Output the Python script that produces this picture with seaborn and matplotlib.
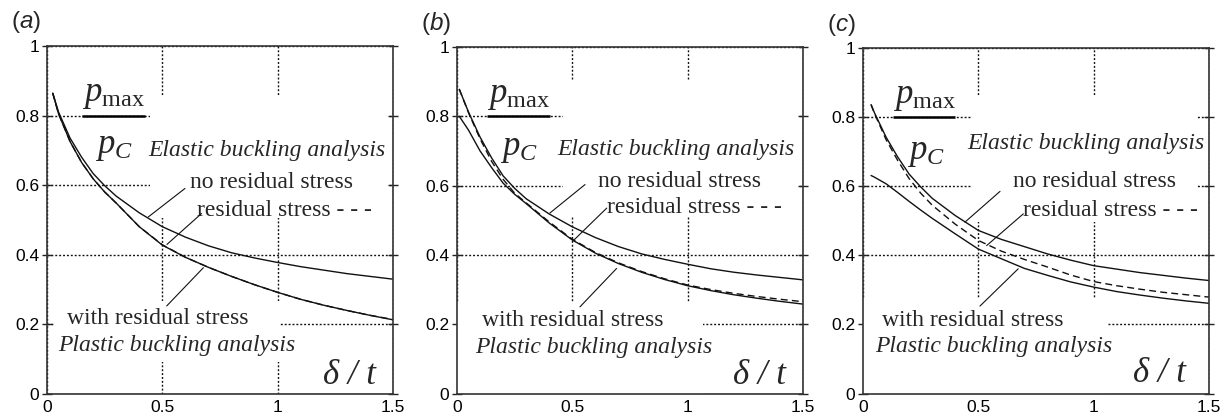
import numpy as np
import pandas as pd
import matplotlib
matplotlib.use("Agg")
import matplotlib.pyplot as plt
from matplotlib.patches import Rectangle
import seaborn as sns

# ---------------- data ----------------
panel_labels = ["a", "b", "c"]
x_ticks = [0, 0.5, 1, 1.5]
x_tick_labels = ["0", "0.5", "1", "1.5"]
y_ticks = [0, 0.2, 0.4, 0.6, 0.8, 1.0]
y_tick_labels = ["0", "0.2", "0.4", "0.6", "0.8", "1"]

x_a = [0.025, 0.05, 0.1, 0.15, 0.2, 0.25, 0.3, 0.4, 0.5, 0.6, 0.7, 0.8, 0.9, 1.0, 1.1, 1.2, 1.3, 1.4, 1.5]
a_no_res = [0.864, 0.81, 0.735, 0.68, 0.633, 0.598, 0.568, 0.52, 0.48, 0.45, 0.425, 0.405, 0.39, 0.377, 0.365, 0.355, 0.345, 0.337, 0.329]
a_res = [0.864, 0.805, 0.725, 0.665, 0.618, 0.58, 0.548, 0.48, 0.428, 0.392, 0.363, 0.337, 0.313, 0.291, 0.271, 0.254, 0.239, 0.225, 0.213]
a_plastic = [0.864, 0.805, 0.725, 0.665, 0.618, 0.58, 0.548, 0.48, 0.427, 0.392, 0.363, 0.337, 0.313, 0.291, 0.271, 0.254, 0.239, 0.225, 0.212]

x_b = [0.01, 0.05, 0.1, 0.15, 0.2, 0.25, 0.3, 0.4, 0.5, 0.6, 0.7, 0.8, 0.9, 1.0, 1.1, 1.2, 1.3, 1.4, 1.5]
b_no_res = [0.878, 0.812, 0.74, 0.68, 0.628, 0.592, 0.562, 0.518, 0.481, 0.45, 0.424, 0.403, 0.387, 0.373, 0.36, 0.35, 0.342, 0.335, 0.328]
b_res = [0.878, 0.81, 0.735, 0.67, 0.618, 0.578, 0.55, 0.495, 0.445, 0.407, 0.377, 0.352, 0.331, 0.313, 0.3, 0.289, 0.28, 0.272, 0.265]
b_plastic = [0.80, 0.76, 0.70, 0.652, 0.607, 0.575, 0.548, 0.492, 0.443, 0.405, 0.375, 0.35, 0.329, 0.311, 0.297, 0.285, 0.275, 0.266, 0.258]

x_c = [0.035, 0.05, 0.1, 0.15, 0.2, 0.25, 0.3, 0.4, 0.5, 0.6, 0.7, 0.8, 0.9, 1.0, 1.1, 1.2, 1.3, 1.4, 1.5]
c_no_res = [0.836, 0.812, 0.742, 0.685, 0.635, 0.598, 0.565, 0.515, 0.472, 0.446, 0.425, 0.404, 0.386, 0.37, 0.36, 0.35, 0.342, 0.334, 0.327]
c_res = [0.836, 0.81, 0.735, 0.675, 0.622, 0.58, 0.545, 0.49, 0.443, 0.412, 0.388, 0.366, 0.343, 0.324, 0.312, 0.302, 0.293, 0.286, 0.279]
c_plastic = [0.631, 0.626, 0.607, 0.582, 0.556, 0.531, 0.507, 0.462, 0.418, 0.39, 0.362, 0.342, 0.323, 0.308, 0.295, 0.285, 0.276, 0.268, 0.261]

txt_elastic = "Elastic buckling analysis"
txt_no_res = "no residual stress"
txt_res = "residual stress - - -"
txt_with_res = "with residual stress"
txt_plastic = "Plastic buckling analysis"
txt_xlabel = "δ / t"

series = {
    "a": (x_a, a_no_res, a_res, a_plastic),
    "b": (x_b, b_no_res, b_res, b_plastic),
    "c": (x_c, c_no_res, c_res, c_plastic),
}

# ---------------- layout (positions in data units) ----------------
layout = {
    "a": dict(left=47, top=46, elastic=(0.438, 0.70), no=(0.62, 0.608), res=(0.65, 0.527),
              withr=(0.087, 0.216), plastic=(0.048, 0.138), dt=(1.196, 0.052),
              pmax=(0.152, 0.425), pc=(0.208, 0.758),
              boxes=[(0.446, 0.505, 1.48, 0.855), (0.03, 0.09, 1.012, 0.265)],
              lead_no=((0.598, 0.590), (0.439, 0.508)),
              lead_res=((0.67, 0.518), (0.52, 0.429)),
              lead_with=((0.519, 0.252), (0.678, 0.362))),
    "b": dict(left=457, top=47, elastic=(0.433, 0.704), no=(0.611, 0.612), res=(0.65, 0.536),
              withr=(0.108, 0.212), plastic=(0.078, 0.133), dt=(1.196, 0.052),
              pmax=(0.131, 0.404), pc=(0.186, 0.754),
              boxes=[(0.46, 0.51, 1.48, 0.905), (0.0, 0.0, 1.066, 0.265)],
              lead_no=((0.555, 0.603), (0.403, 0.521)),
              lead_res=((0.649, 0.535), (0.504, 0.441)),
              lead_with=((0.533, 0.25), (0.692, 0.361))),
    "c": dict(left=863, top=48, elastic=(0.451, 0.723), no=(0.65, 0.613), res=(0.694, 0.529),
              withr=(0.082, 0.21), plastic=(0.052, 0.135), dt=(1.17, 0.057),
              pmax=(0.13, 0.399), pc=(0.19, 0.746),
              boxes=[(0.471, 0.497, 1.445, 0.86), (0.0, 0.0, 1.062, 0.275)],
              lead_no=((0.594, 0.585), (0.442, 0.496)),
              lead_res=((0.695, 0.52), (0.536, 0.428)),
              lead_with=((0.507, 0.253), (0.673, 0.361))),
}

# ---------------- style ----------------
sns.set_theme(style="white")
plt.rcParams["font.family"] = ["Liberation Sans", "DejaVu Sans"]
plt.rcParams["mathtext.fontset"] = "custom"
plt.rcParams["mathtext.rm"] = "Liberation Serif"
plt.rcParams["mathtext.it"] = "Liberation Serif:italic"
plt.rcParams["mathtext.sf"] = "Liberation Sans:italic"

W, H = 1228, 419
fig = plt.figure(figsize=(W / 100, H / 100), dpi=100)
fig.patch.set_facecolor("white")

INK = "#111111"
SERIF = ["Liberation Serif", "DejaVu Serif"]
FS = 17

for key in panel_labels:
    L = layout[key]
    xs, y_no, y_res, y_pl = series[key]
    ax = fig.add_axes([L["left"] / W, 1 - 393.5 / H, 346 / W, (393.5 - L["top"]) / H])
    ax.set_facecolor("white")
    ax.set_xlim(0, 1.5)
    ax.set_ylim(0, 1)
    ax.set_axisbelow(True)
    ax.grid(True, linestyle=(0, (1.4, 1.4)), color="#111111", linewidth=1.0)

    for (x0, y0, x1, y1) in L["boxes"]:
        ax.add_patch(Rectangle((x0, y0), x1 - x0, y1 - y0, facecolor="white",
                               edgecolor="none", zorder=1))

    df = pd.DataFrame({
        "x": list(xs) * 3,
        "y": list(y_no) + list(y_res) + list(y_pl),
        "curve": ["no"] * len(xs) + ["res"] * len(xs) + ["pl"] * len(xs),
    })
    sns.lineplot(data=df[df.curve == "no"], x="x", y="y", ax=ax, color=INK, lw=1.0, zorder=2)
    sns.lineplot(data=df[df.curve == "pl"], x="x", y="y", ax=ax, color=INK, lw=1.0, zorder=2)
    sns.lineplot(data=df[df.curve == "res"], x="x", y="y", ax=ax, color=INK, lw=1.0,
                 linestyle=(0, (5, 3)), zorder=2)
    ax.set_xlabel("")
    ax.set_ylabel("")

    for sp in ax.spines.values():
        sp.set_color("#333333")
        sp.set_linewidth(1.2)

    ax.set_xticks(x_ticks)
    ax.set_xticklabels(x_tick_labels)
    ax.set_yticks(y_ticks)
    ax.set_yticklabels(y_tick_labels)
    ax.tick_params(axis="x", length=0, pad=5, labelsize=12.5, colors="black")
    ax.tick_params(axis="y", direction="inout", length=7, width=1.0, pad=2,
                   labelsize=12.5, right=True, left=True)
    ax.tick_params(axis="y", colors="#222222", labelcolor="black")

    # panel label
    ax.text(-0.105, 1.068, r"($\mathsf{%s}$)" % key, transform=ax.transAxes,
            fontsize=17.5, ha="left", va="center")

    # texts
    ax.text(*L["elastic"], txt_elastic, family=SERIF, style="italic", fontsize=FS,
            ha="left", va="center", zorder=4)
    ax.text(*L["no"], txt_no_res, family=SERIF, fontsize=FS, ha="left", va="center", zorder=4)
    ax.text(*L["res"], txt_res, family=SERIF, fontsize=FS, ha="left", va="center", zorder=4)
    ax.text(*L["withr"], txt_with_res, family=SERIF, fontsize=FS, ha="left", va="center", zorder=4)
    ax.text(*L["plastic"], txt_plastic, family=SERIF, style="italic", fontsize=FS,
            ha="left", va="center", zorder=4)
    ax.text(*L["dt"], txt_xlabel, family=SERIF, style="italic", fontsize=25,
            ha="left", va="center", zorder=4)

    # p_max / p_C fraction
    px0, px1 = L["pmax"]
    ax.text(px0, 0.812, r"$p_{\mathrm{max}}$", fontsize=25, ha="left", va="bottom", zorder=4)
    ax.plot([px0, px1], [0.8, 0.8], color="black", lw=1.8, zorder=4, solid_capstyle="butt")
    ax.text(*L["pc"], r"$p_C$", fontsize=25, ha="left", va="top", zorder=4)

    # leader lines
    for lk in ("lead_no", "lead_res", "lead_with"):
        (sx, sy), (ex, ey) = L[lk]
        ax.annotate("", xy=(ex, ey), xytext=(sx, sy),
                    arrowprops=dict(arrowstyle="-", lw=0.8, color=INK,
                                    shrinkA=0, shrinkB=0), zorder=4)

fig.savefig("out.png", dpi=100, facecolor="white")
